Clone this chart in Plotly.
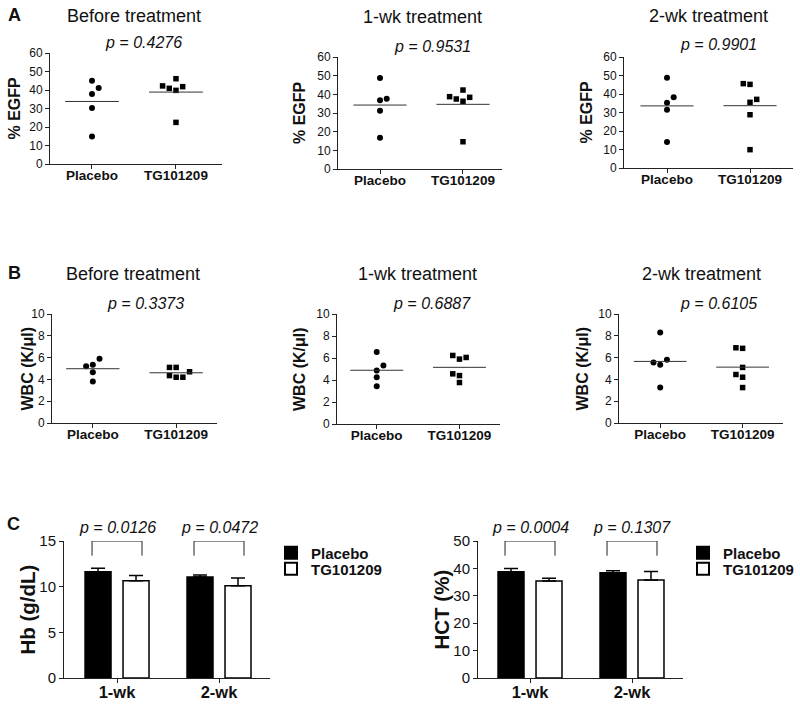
import numpy as np
import plotly.graph_objects as go

W, H = 800, 707
FONT = "Liberation Sans, Arial, sans-serif"
INK = "#111111"

# ---------------- data ----------------
groups = ["Placebo", "TG101209"]
panel_titles = ["Before treatment", "1-wk treatment", "2-wk treatment"]

egfp_placebo_before = [45.0, 41.1, 37.8, 30.3, 14.8]
egfp_tg_before = [46.1, 42.2, 40.9, 39.8, 41.8, 22.5]
egfp_placebo_1wk = [48.75, 37.7, 36.8, 31.25, 16.8]
egfp_tg_1wk = [38.75, 37.5, 42.3, 36.3, 38.4, 14.6]
egfp_placebo_2wk = [48.8, 38.2, 35.3, 31.5, 14.05]
egfp_tg_2wk = [45.6, 45.2, 35.5, 37.1, 28.8, 9.9]
egfp_p = ["0.4276", "0.9531", "0.9901"]

wbc_placebo_before = [5.2, 5.35, 5.9, 4.65, 3.8]
wbc_tg_before = [5.1, 5.1, 4.35, 4.2, 4.2, 4.7]
wbc_placebo_1wk = [6.55, 4.86, 5.32, 4.26, 3.44]
wbc_tg_1wk = [6.23, 5.9, 6.05, 4.56, 4.4, 3.77]
wbc_placebo_2wk = [8.3, 5.55, 5.8, 5.35, 3.25]
wbc_tg_2wk = [6.9, 6.85, 5.1, 4.45, 4.2, 3.25]
wbc_p = ["0.3373", "0.6887", "0.6105"]

timepoints = ["1-wk", "2-wk"]
hb_placebo_mean = [11.64, 11.06]
hb_placebo_sem = [0.37, 0.22]
hb_tg_mean = [10.66, 10.11]
hb_tg_sem = [0.55, 0.84]
hb_p = ["0.0126", "0.0472"]

hct_placebo_mean = [38.8, 38.4]
hct_placebo_sem = [1.2, 0.7]
hct_tg_mean = [35.4, 35.8]
hct_tg_sem = [1.0, 3.1]
hct_p = ["0.0004", "0.1307"]

# ---------------- layout helpers ----------------
# horizontal spreading slots of the dot plots (display only)
slots_a = [([0, 1, 0, 0, 0], [0, -2, -1, 0, 1, 0]),
           ([0, 1, 0, 0, 0], [-2, -1, 0, 0, 1, 0]),
           ([0, 1, 0, 0, 0], [-1, 0, 0, 1, 0, 0])]
slots_b = [([-1, 0, 1, 0, 0], [-1, 0, -1, 0, 1, 2]),
           ([0, 0, 1, 0, 0], [-1, 0, 1, -1, 0, 0]),
           ([0, -1, 1, 0, 0], [-1, 0, 0, -1, 0, 0])]

# panel boxes in pixels: xl, xr, yt, yb, xrange
boxes = [
    (50, 222, 53, 164, [-0.5, 1.548]),
    (338, 502, 57, 169, [-0.506, 1.47]),
    (624, 793, 57, 168, [-0.518, 1.518]),
    (52, 217, 314, 423, [-0.49, 1.49]),
    (337, 500, 314, 424, [-0.48, 1.49]),
    (619, 783, 314, 423, [-0.5, 1.49]),
    (64, 270, 541, 678, [-0.52, 1.5]),
    (478, 683, 541, 678, [-0.51, 1.5]),
]


def fx(x):
    return x / W


def fy(y):
    return 1 - y / H


fig = go.Figure()
lay = {}
annotations = []
shapes = []


def axis_names(i):
    n = "" if i == 1 else str(i)
    return "x" + n, "y" + n, "xaxis" + n, "yaxis" + n


def base_axis(**kw):
    d = dict(showline=True, linecolor="#222222", linewidth=1, ticks="outside",
             ticklen=4, tickwidth=1, tickcolor="#222222", showgrid=False,
             zeroline=False, fixedrange=True, automargin=False)
    d.update(kw)
    return d


def text(x, y, s, size, bold=False, italic=False, angle=0, xanchor="center", yanchor="middle"):
    if bold:
        s = "<b>" + s + "</b>"
    if italic:
        s = "<i>" + s + "</i>"
    annotations.append(dict(x=fx(x), y=fy(y), xref="paper", yref="paper", text=s,
                            showarrow=False, textangle=angle, xanchor=xanchor,
                            yanchor=yanchor, font=dict(family=FONT, size=size, color=INK)))


dot_sets = [
    (egfp_placebo_before, egfp_tg_before), (egfp_placebo_1wk, egfp_tg_1wk),
    (egfp_placebo_2wk, egfp_tg_2wk),
    (wbc_placebo_before, wbc_tg_before), (wbc_placebo_1wk, wbc_tg_1wk),
    (wbc_placebo_2wk, wbc_tg_2wk),
]
all_slots = slots_a + slots_b
pvals = egfp_p + wbc_p

# title / p-value positions (pixels)
title_pos = [(134, 16), (422, 17), (708, 16), (133, 274), (417, 274), (701, 274)]
p_pos = [(143, 43), (432, 46), (718, 45), (145, 303), (432, 303), (718, 303)]
ytitle_x = [14, 300, 586, 27, 299, 582]

for i in range(6):
    xl, xr, yt, yb, xrng = boxes[i]
    xa, ya, xk, yk = axis_names(i + 1)
    px_per_unit = (xr - xl) / (xrng[1] - xrng[0])
    slot_w = 6.7 / px_per_unit
    is_a = i < 3
    for g, (vals, slots, sym, msize) in enumerate(
            [(dot_sets[i][0], all_slots[i][0], "circle", 6),
             (dot_sets[i][1], all_slots[i][1], "square", 5.5)]):
        vals = np.array(vals, dtype=float)
        xs = g + np.array(slots) * slot_w
        fig.add_trace(go.Scatter(x=xs, y=vals, mode="markers", xaxis=xa, yaxis=ya,
                                 marker=dict(symbol=sym, size=msize, color="black"),
                                 showlegend=False, cliponaxis=False, hoverinfo="y"))
        m = float(vals.mean())
        fig.add_trace(go.Scatter(x=[g - 0.32, g + 0.32], y=[m, m], mode="lines",
                                 xaxis=xa, yaxis=ya, line=dict(color="#333333", width=1),
                                 showlegend=False, hoverinfo="skip"))
    lay[xk] = base_axis(domain=[fx(xl), fx(xr)], anchor=ya, range=xrng,
                        tickvals=[0, 1], ticktext=groups, ticklabelstandoff=-5,
                        tickfont=dict(family=FONT, size=13.5, color=INK, weight="bold"))
    if is_a:
        lay[yk] = base_axis(domain=[fy(yb), fy(yt)], anchor=xa, range=[0, 60],
                            tickvals=list(range(0, 61, 10)),
                            tickfont=dict(family=FONT, size=12, color=INK))
        text(ytitle_x[i], (yt + yb) / 2, "% EGFP", 16, bold=True, angle=-90)
    else:
        lay[yk] = base_axis(domain=[fy(yb), fy(yt)], anchor=xa, range=[0, 10],
                            tickvals=list(range(0, 11, 2)),
                            tickfont=dict(family=FONT, size=12, color=INK))
        text(ytitle_x[i], (yt + yb) / 2, "WBC (K/\u03bcl)", 16, bold=True, angle=-90)
    text(title_pos[i][0], title_pos[i][1], panel_titles[i % 3], 18)
    text(p_pos[i][0], p_pos[i][1], "p = " + pvals[i], 16, italic=True)

text(14, 15, "A", 18, bold=True)
text(14, 273, "B", 18, bold=True)
text(13, 524, "C", 18, bold=True)

# ---------------- bar panels ----------------
# legend ids: one legend per entry so each row can be placed like the original
bar_sets = [
    (hb_placebo_mean, hb_placebo_sem, hb_tg_mean, hb_tg_sem, hb_p, 15, [0, 5, 10, 15],
     "Hb (g/dL)", 27, ("legend", "legend2"), 271),
    (hct_placebo_mean, hct_placebo_sem, hct_tg_mean, hct_tg_sem, hct_p, 50, [0, 10, 20, 30, 40, 50],
     "HCT (%)", 441, ("legend3", "legend4"), 683),
]
legend_style = dict(font=dict(family=FONT, size=15, color=INK, weight="bold"),
                    bgcolor="rgba(0,0,0,0)", borderwidth=0, xanchor="left", yanchor="middle",
                    tracegroupgap=0, itemsizing="constant")
for j, (pm, ps, tm, ts, pv, ymax, tv, ytitle, ytx, legs, legx) in enumerate(bar_sets):
    idx = 7 + j
    xl, xr, yt, yb, xrng = boxes[idx - 1]
    xa, ya, xk, yk = axis_names(idx)
    for (name, mean, sem, fill), leg, legy in zip(
            [("Placebo", pm, ps, "black"), ("TG101209", tm, ts, "white")], legs, (553, 569)):
        fig.add_trace(go.Bar(x=timepoints, y=mean, name=name, xaxis=xa, yaxis=ya,
                             marker=dict(color=fill, line=dict(color="black", width=1.5)),
                             error_y=dict(type="data", array=sem, arrayminus=[0] * len(sem),
                                          symmetric=False, color="black", thickness=1.5, width=7),
                             legend=leg, showlegend=True))
        lay[leg] = dict(x=fx(legx), y=fy(legy), **legend_style)
    lay[xk] = base_axis(domain=[fx(xl), fx(xr)], anchor=ya, range=xrng, type="category",
                        ticklabelstandoff=-5,
                        tickfont=dict(family=FONT, size=16.5, color=INK, weight="bold"))
    lay[yk] = base_axis(domain=[fy(yb), fy(yt)], anchor=xa, range=[0, ymax], tickvals=tv,
                        tickfont=dict(family=FONT, size=15, color=INK))
    text(ytx, (yt + yb) / 2, ytitle, 20.5, bold=True, angle=-90)
    for k, p in enumerate(pv):
        x0, x1 = k - 0.245, k + 0.245
        ybot = ymax * 0.893
        shapes.append(dict(type="path", xref=xa, yref=ya,
                           path=f"M {x0},{ybot} L {x0},{ymax} L {x1},{ymax} L {x1},{ybot}",
                           line=dict(color="#222222", width=1)))
        gx = xl + (k - xrng[0]) / (xrng[1] - xrng[0]) * (xr - xl)
        text(gx, 527, "p = " + p, 16, italic=True)

fig.update_layout(
    template="none",
    width=W, height=H, autosize=False,
    margin=dict(l=0, r=0, t=0, b=0, pad=0, autoexpand=False),
    paper_bgcolor="white", plot_bgcolor="white",
    barmode="group", bargap=0.255, bargroupgap=0.316,
    font=dict(family=FONT, color=INK),
    annotations=annotations, shapes=shapes,
    **lay,
)

fig.write_html("out.html", config={"responsive": False, "displayModeBar": False},
               post_script="document.body.style.margin='0';document.body.style.overflow='hidden';")
